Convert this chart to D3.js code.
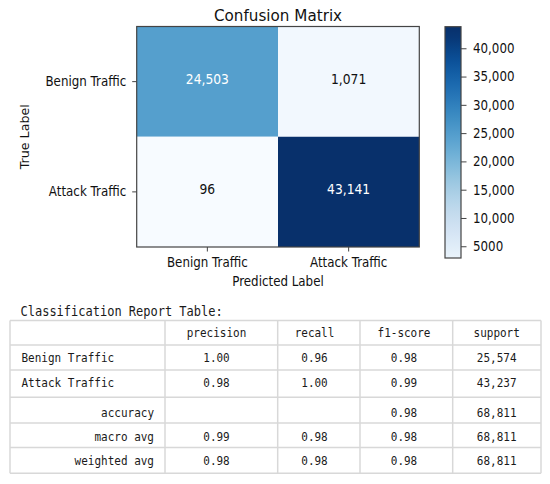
<!DOCTYPE html>
<html>
<head>
<meta charset="utf-8">
<script src="https://cdn.jsdelivr.net/npm/d3@7"></script>
<style>
  body { margin: 0; background: #fff; }
  svg { display: block; }
  .sans { font-family: "DejaVu Sans", sans-serif; fill: #111; }
  .mono { font-family: "DejaVu Sans Mono", monospace; fill: #1a1a1a; }
</style>
</head>
<body>
<div id="chart"></div>
<script>
// Confusion matrix data
var classes = ["Benign Traffic", "Attack Traffic"];
var matrix = [[24503, 1071], [96, 43141]];
var cbarTicks = [5000, 10000, 15000, 20000, 25000, 30000, 35000, 40000];

// Classification report data
var reportHeaders = ["precision", "recall", "f1-score", "support"];
var reportRows = ["Benign Traffic", "Attack Traffic", "accuracy", "macro avg", "weighted avg"];
var precision = [1.00, 0.98, null, 0.99, 0.98];
var recall = [0.96, 1.00, null, 0.98, 0.98];
var f1Score = [0.98, 0.99, 0.98, 0.98, 0.98];
var support = [25574, 43237, 68811, 68811, 68811];

var svgWidth = 550;
var svgHeight = 484;

// the original picture is a little narrow, so text gets squeezed sideways
var squeezeX = 0.88;

function squeeze(sel, k) {
    sel.each(function() {
        var t = d3.select(this);
        var tx = +t.attr("x") || 0;
        var ty = +t.attr("y") || 0;
        t.attr("x", null)
            .attr("y", null)
            .attr("transform", `translate(${tx},${ty}) scale(${k},1)`);
    });
}

var svg = d3.select("#chart")
    .append("svg")
    .attr("width", svgWidth)
    .attr("height", svgHeight);

// Step 1: heatmap scales
// ==============================
var hm = { left: 136.7, right: 419.3, top: 26.5, bottom: 247 };

var x = d3.scaleBand().domain(classes).range([hm.left, hm.right]);
var y = d3.scaleBand().domain(classes).range([hm.top, hm.bottom]);

var cells = [];
matrix.forEach(function(row, i) {
    row.forEach(function(v, j) {
        cells.push({ actual: classes[i], predicted: classes[j], value: v });
    });
});

var vmin = d3.min(cells, d => d.value);
var vmax = d3.max(cells, d => d.value);
var color = d3.scaleSequential(d3.interpolateBlues).domain([vmin, vmax]);
var fmt = d3.format(",");

// Step 2: cells and their values
// ==============================
svg.append("g")
    .selectAll("rect")
    .data(cells)
    .enter()
    .append("rect")
    .attr("x", d => x(d.predicted))
    .attr("y", d => y(d.actual))
    .attr("width", x.bandwidth())
    .attr("height", y.bandwidth())
    .attr("fill", d => color(d.value));

svg.append("g")
    .selectAll("text")
    .data(cells)
    .enter()
    .append("text")
    .attr("class", "sans")
    .attr("x", d => x(d.predicted) + x.bandwidth() / 2)
    .attr("y", d => y(d.actual) + y.bandwidth() / 2)
    .attr("dy", "0.15em")
    .attr("text-anchor", "middle")
    .style("font-size", "14px")
    .style("fill", d => d.value > (vmin + vmax) / 2 ? "#fff" : "#111")
    .text(d => fmt(d.value))
    .call(squeeze, squeezeX);

svg.append("rect")
    .attr("x", hm.left)
    .attr("y", hm.top)
    .attr("width", hm.right - hm.left)
    .attr("height", hm.bottom - hm.top)
    .attr("fill", "none")
    .attr("stroke", "#444")
    .attr("stroke-width", 1.2);

// Step 3: axes
// ==============================
var xAxis = svg.append("g")
    .attr("transform", `translate(0, ${hm.bottom})`)
    .call(d3.axisBottom(x).tickSize(4.5).tickPadding(5.5).tickSizeOuter(0));

var yAxis = svg.append("g")
    .attr("transform", `translate(${hm.left}, 0)`)
    .call(d3.axisLeft(y).tickSize(4.5).tickPadding(6).tickSizeOuter(0));

[xAxis, yAxis].forEach(function(ax) {
    ax.select(".domain").remove();
    ax.selectAll("line").attr("stroke", "#444");
    ax.selectAll("text")
        .attr("class", "sans")
        .style("font-size", "13.5px")
        .style("fill", "#111")
        .call(squeeze, squeezeX);
});

svg.append("text")
    .attr("class", "sans")
    .attr("x", (hm.left + hm.right) / 2)
    .attr("y", 20.5)
    .attr("text-anchor", "middle")
    .style("font-size", "16px")
    .text("Confusion Matrix")
    .call(squeeze, 0.95);

svg.append("text")
    .attr("class", "sans")
    .attr("x", (hm.left + hm.right) / 2)
    .attr("y", 285.5)
    .attr("text-anchor", "middle")
    .style("font-size", "13.5px")
    .text("Predicted Label")
    .call(squeeze, squeezeX);

svg.append("text")
    .attr("class", "sans")
    .attr("transform", `translate(29, ${(hm.top + hm.bottom) / 2}) rotate(-90)`)
    .attr("text-anchor", "middle")
    .style("font-size", "12.7px")
    .text("True Label");

// Step 4: colorbar
// ==============================
var cbar = { left: 445, width: 16, top: 26.7, bottom: 258 };
var cbScale = d3.scaleLinear().domain([vmin, vmax]).range([274, 30.5]);

var grad = svg.append("defs")
    .append("linearGradient")
    .attr("id", "cbarGrad")
    .attr("x1", 0).attr("y1", 1)
    .attr("x2", 0).attr("y2", 0);

grad.selectAll("stop")
    .data(d3.range(0, 1.0001, 0.05))
    .enter()
    .append("stop")
    .attr("offset", d => d)
    .attr("stop-color", function(d) {
        var v = cbScale.invert(cbar.bottom - d * (cbar.bottom - cbar.top));
        return color(Math.max(vmin, Math.min(vmax, v)));
    });

svg.append("rect")
    .attr("x", cbar.left)
    .attr("y", cbar.top)
    .attr("width", cbar.width)
    .attr("height", cbar.bottom - cbar.top)
    .attr("fill", "url(#cbarGrad)")
    .attr("stroke", "#444")
    .attr("stroke-width", 1.2);

var cAxis = svg.append("g")
    .attr("transform", `translate(${cbar.left + cbar.width}, 0)`)
    .call(d3.axisRight(cbScale)
        .tickValues(cbarTicks)
        .tickSize(5.5)
        .tickPadding(6.5)
        .tickFormat(d => d < 10000 ? String(d) : fmt(d)));

cAxis.select(".domain").remove();
cAxis.selectAll("line").attr("stroke", "#444");
cAxis.selectAll("text")
    .attr("class", "sans")
    .style("font-size", "13.5px")
    .style("fill", "#111")
    .call(squeeze, squeezeX);

// Step 5: classification report table
// ==============================
svg.append("text")
    .attr("class", "mono")
    .attr("x", 20.5)
    .attr("y", 315.7)
    .style("font-size", "13.8px")
    .text("Classification Report Table:")
    .call(squeeze, 0.87);

var colEdges = [10, 165, 277.7, 360, 452.7, 541];
var rowEdges = [320.5, 345, 370, 397.3, 423, 447.5, 473.3];

var colCenter = d3.scaleOrdinal()
    .domain(reportHeaders)
    .range([216.5, 314.5, 404, 496.7]);
var rowBase = d3.scaleOrdinal()
    .domain(["header"].concat(reportRows))
    .range([336.7, 361.7, 386.7, 416.7, 440.7, 464.7]);

var grid = svg.append("g")
    .attr("stroke", "#d8d8d8")
    .attr("stroke-width", 1.5);

grid.selectAll(".h")
    .data(rowEdges)
    .enter()
    .append("line")
    .attr("x1", colEdges[0])
    .attr("x2", colEdges[colEdges.length - 1])
    .attr("y1", d => d)
    .attr("y2", d => d);

grid.selectAll(".v")
    .data(colEdges)
    .enter()
    .append("line")
    .attr("x1", d => d)
    .attr("x2", d => d)
    .attr("y1", rowEdges[0])
    .attr("y2", rowEdges[rowEdges.length - 1]);

svg.append("g")
    .selectAll("text")
    .data(reportHeaders)
    .enter()
    .append("text")
    .attr("class", "mono")
    .attr("x", d => colCenter(d))
    .attr("y", rowBase("header"))
    .attr("text-anchor", "middle")
    .style("font-size", "12.5px")
    .text(d => d)
    .call(squeeze, squeezeX);

// row labels: class names left aligned, averages right aligned
svg.append("g")
    .selectAll("text")
    .data(reportRows)
    .enter()
    .append("text")
    .attr("class", "mono")
    .attr("x", (d, i) => i < classes.length ? 21.5 : 154)
    .attr("y", d => rowBase(d))
    .attr("text-anchor", (d, i) => i < classes.length ? "start" : "end")
    .style("font-size", "12.5px")
    .text(d => d)
    .call(squeeze, squeezeX);

var f2 = d3.format(".2f");
var tableCells = [];
reportRows.forEach(function(r, i) {
    tableCells.push({ row: r, col: "precision", text: precision[i] == null ? "" : f2(precision[i]) });
    tableCells.push({ row: r, col: "recall", text: recall[i] == null ? "" : f2(recall[i]) });
    tableCells.push({ row: r, col: "f1-score", text: f2(f1Score[i]) });
    tableCells.push({ row: r, col: "support", text: fmt(support[i]) });
});

svg.append("g")
    .selectAll("text")
    .data(tableCells)
    .enter()
    .append("text")
    .attr("class", "mono")
    .attr("x", d => colCenter(d.col))
    .attr("y", d => rowBase(d.row))
    .attr("text-anchor", "middle")
    .style("font-size", "12.5px")
    .text(d => d.text)
    .call(squeeze, squeezeX);
</script>
</body>
</html>
